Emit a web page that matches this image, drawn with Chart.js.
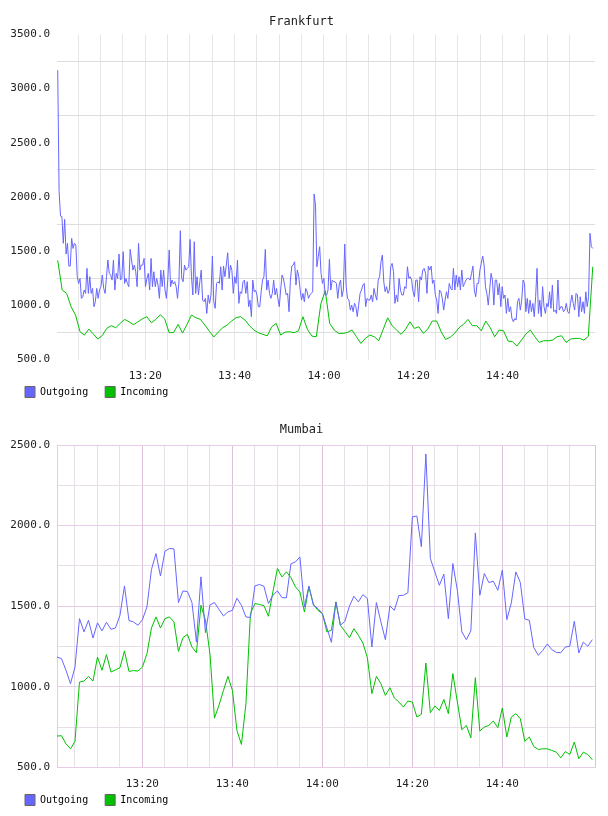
<!DOCTYPE html>
<html>
<head>
<meta charset="utf-8">
<script src="https://cdn.jsdelivr.net/npm/chart.js@4.4.0/dist/chart.umd.min.js"></script>
<style>
  body { margin: 0; background: #fff; }
  canvas { display: block; }
</style>
</head>
<body>
<canvas id="frankfurt" width="608" height="408"></canvas>
<canvas id="mumbai" width="608" height="408"></canvas>
<script>
// values
const seriesNames = ['Outgoing', 'Incoming'];

// Frankfurt, outgoing (about one sample every 20s)
const frankfurtOut = [
  3170, 2050, 1824, 1818, 1572, 1793, 1473, 1572, 1362, 1362, 1618, 1525, 1572, 1556, 1264, 1202, 1248, 1064, 1079, 1141,
  1110, 1341, 1110, 1264, 1110, 1156, 987, 1033, 1156, 1064, 1141, 1172, 1279, 1156, 1110, 1264, 1418, 1295, 1279, 1233,
  1418, 1141, 1295, 1248, 1473, 1233, 1248, 1495, 1202, 1248, 1202, 1172, 1516, 1418, 1325, 1372, 1310, 1172, 1572, 1325,
  1372, 1372, 1433, 1172, 1248, 1295, 1141, 1433, 1172, 1310, 1172, 1248, 1187, 1064, 1325, 1172, 1325, 1141, 1064, 1233,
  1510, 1172, 1233, 1196, 1218, 1172, 1064, 1218, 1688, 1248, 1218, 1372, 1325, 1341, 1356, 1608, 1264, 1095, 1587, 1110,
  1264, 1095, 1218, 1325, 1048, 1033, 1064, 925, 1095, 1018, 1095, 1455, 1033, 972, 1202, 1218, 1202, 1356, 1141, 1362,
  1264, 1372, 1485, 1248, 1372, 1325, 1110, 1264, 1202, 1418, 1018, 1125, 1110, 1218, 1233, 1110, 1218, 987, 1048, 895,
  1233, 1125, 1141, 1095, 987, 987, 1125, 1233, 1264, 1516, 1141, 1233, 1110, 1064, 1110, 1233, 1095, 1156, 1064, 987,
  1141, 1279, 1248, 1172, 1095, 1110, 941, 1233, 1362, 1372, 1402, 1187, 1325, 1264, 1141, 1048, 1110, 1033, 1156, 1125,
  1064, 1095, 1110, 1125, 2027, 1925, 1356, 1448, 1541, 1295, 1202, 1248, 1095, 1095, 1141, 1424, 1141, 1233, 1218, 1218,
  1202, 1064, 1187, 1233, 1079, 1141, 1565, 1172, 1064, 1048, 956, 1002, 941, 1018, 987, 895, 1002, 1110, 1141, 1187,
  1202, 987, 1064, 1048, 1048, 1095, 1033, 1156, 1095, 1048, 1233, 1264, 1402, 1464, 1218, 1125, 1172, 1110, 1141, 1356,
  1387, 1310, 1018, 1095, 1033, 1248, 1141, 1095, 1095, 1172, 1156, 1356, 1248,
  1264, 1233, 1125, 1079, 1233, 1233, 1033, 1264, 1233, 1325, 1341, 1295, 1110, 1362, 1325, 1362, 1202, 1233, 1095, 1048,
  925, 1141, 1125, 1064, 956, 1048, 1125, 1064, 1202, 1156, 1141, 1341, 1141, 1279, 1172, 1264, 1141, 1325, 1172, 1202,
  1233, 1248, 1248, 1233, 1295, 1362, 1141, 1079, 1202, 1202, 1325, 1387, 1455, 1372, 1172, 1110, 1002, 1141, 1295, 1233,
  1002, 1233, 1233, 1095, 1202, 987, 1172, 1064, 1095, 925, 1064, 941, 987, 879, 848, 879, 864, 1033, 1064, 956,
  1048, 1233, 1202, 941, 1064, 925, 1048, 941, 1018, 895, 1079, 1341, 925, 1048, 895, 1172, 987, 925, 1018, 987,
  1125, 972, 1187, 941, 956, 925, 1233, 956, 987, 987, 941, 956, 1018, 941, 925, 1018, 1095, 1018, 956, 1110,
  1095, 895, 1079, 941, 1033, 925, 1125, 987, 1079, 1664, 1541, 1525
];

// Frankfurt, incoming (one sample a minute)
const frankfurtIn = [
  1415, 1141, 1110, 987, 910, 756, 725, 781, 735, 688, 722, 787, 812, 793, 833, 870, 848, 821, 848, 876,
  895, 839, 870, 913, 873, 747, 750, 824, 744, 824, 910, 885, 870, 818, 762, 707, 753, 793, 818, 855,
  885, 895, 864, 812, 772, 747, 732, 719, 802, 833, 725, 753, 756, 747, 765, 895, 778, 716, 710, 1011,
  1135, 833, 772, 741, 741, 750, 772, 710, 648, 695, 725, 710, 673, 778, 885, 812, 772, 732, 778, 848,
  787, 802, 741, 781, 855, 855, 756, 685, 704, 741, 793, 824, 870, 812, 812, 765, 855, 793, 710, 772,
  765, 670, 664, 624, 679, 735, 772, 710, 658, 673, 673, 679, 710, 719, 658, 688, 695, 695, 679, 713,
  1356
];

// Mumbai, outgoing (one sample a minute)
const mumbaiOut = [
  1185, 1175, 1103, 1020, 1123, 1423, 1341, 1413, 1303, 1397, 1347, 1401, 1357, 1365, 1444, 1626, 1411, 1403, 1382, 1417,
  1496, 1728, 1827, 1688, 1842, 1858, 1856, 1523, 1595, 1591, 1523, 1278, 1682, 1336, 1508, 1523, 1481, 1440, 1465, 1475,
  1550, 1506, 1434, 1430, 1626, 1635, 1624, 1517, 1568, 1595, 1554, 1552, 1763, 1775, 1806, 1496, 1626, 1506, 1486, 1454,
  1365, 1276, 1527, 1382, 1407, 1500, 1562, 1527, 1572, 1548, 1247, 1523, 1403, 1293, 1502, 1475, 1566, 1568, 1583, 2055,
  2059, 1869, 2444, 1796, 1713, 1630, 1699, 1423, 1765, 1599, 1341, 1293, 1347, 1955, 1568, 1703, 1647, 1655, 1599, 1724,
  1417, 1521, 1713, 1647, 1421, 1413, 1243, 1196, 1227, 1266, 1231, 1214, 1212, 1247, 1252, 1407, 1210, 1278, 1252, 1293
];

// Mumbai, incoming (one sample a minute)
const mumbaiIn = [
  695, 697, 647, 616, 662, 1030, 1036, 1065, 1036, 1185, 1103, 1200, 1092, 1105, 1119, 1223, 1096, 1101, 1098, 1123,
  1206, 1365, 1434, 1365, 1423, 1434, 1403, 1220, 1305, 1326, 1247, 1212, 1506, 1413, 1206, 806, 885, 978, 1065, 978,
  730, 643, 896, 1455, 1517, 1511, 1504, 1438, 1589, 1734, 1682, 1713, 1678, 1620, 1589, 1465, 1620, 1513, 1475, 1454,
  1341, 1351, 1527, 1382, 1345, 1305, 1361, 1320, 1272, 1181, 958, 1065, 1020, 947, 995, 931, 906, 875, 912, 906,
  813, 830, 1148, 840, 881, 854, 922, 834, 1082, 906, 734, 761, 684, 1057, 726, 751, 761, 788, 747, 869,
  689, 813, 834, 803, 662, 689, 630, 612, 616, 616, 606, 595, 560, 599, 581, 658, 554, 595, 581, 548
];

// time axis: minutes after 13:00
const gridMinutes = [5, 10, 15, 20, 25, 30, 35, 40, 45, 50, 55, 60, 65, 70, 75, 80, 85, 90, 95, 100, 105, 110, 115];
const labelMinutes = [20, 40, 60, 80, 100];

const outColor = 'rgb(102,102,255)';
const inColor = 'rgb(0,192,0)';
const mono = '"DejaVu Sans Mono", monospace';

function toPoints(values, first, last) {
  const step = (last - first) / (values.length - 1);
  return values.map((v, i) => ({ x: first + i * step, y: v }));
}

function clock(v) {
  const m = 13 * 60 + v;
  return Math.floor(m / 60) + ':' + String(m % 60).padStart(2, '0');
}

// the legend sits right under the time labels, so pull it up a bit
const legendLift = {
  id: 'legendLift',
  afterLayout(chart) {
    chart.legend.top -= 13;
    chart.legend.bottom -= 13;
  }
};

function makeChart(id, cfg) {
  const xTicks = cfg.framed ? [cfg.xMin].concat(gridMinutes, [cfg.xMax]) : gridMinutes;
  new Chart(document.getElementById(id), {
    type: 'line',
    data: {
      datasets: [
        { label: seriesNames[0], data: cfg.out, borderColor: outColor, backgroundColor: outColor },
        { label: seriesNames[1], data: cfg.inc, borderColor: inColor, backgroundColor: inColor }
      ]
    },
    plugins: [legendLift],
    options: {
      responsive: false,
      animation: false,
      events: [],
      devicePixelRatio: 1,
      parsing: false,
      elements: {
        line: { borderWidth: 1, tension: 0 },
        point: { radius: 0 }
      },
      layout: { padding: { left: 8, right: 13, top: 0, bottom: -12.5 } },
      scales: {
        x: {
          type: 'linear',
          min: cfg.xMin,
          max: cfg.xMax,
          afterBuildTicks: axis => { axis.ticks = xTicks.map(v => ({ value: v })); },
          afterFit: scale => { scale.height = 23; },
          border: { display: cfg.framed, color: cfg.major },
          grid: {
            drawTicks: false,
            color: ctx => {
              const v = ctx.tick ? ctx.tick.value : 0;
              if (!cfg.framed) return '#e6e6e6';
              if (v === cfg.xMin || v === cfg.xMax || v % 20 === 0) return '#dcc0dc';
              return '#e8e0e8';
            }
          },
          ticks: {
            autoSkip: false,
            maxRotation: 0,
            padding: 10,
            color: '#222',
            font: { family: mono, size: 11 },
            callback: v => labelMinutes.includes(v) ? clock(v) : ''
          }
        },
        y: {
          min: 500,
          max: cfg.yMax,
          afterFit: scale => { scale.width = 49; },
          border: { display: cfg.framed, color: cfg.major },
          grid: {
            drawTicks: false,
            color: ctx => {
              const v = ctx.tick ? ctx.tick.value : 0;
              if (cfg.framed) return v % 500 === 0 ? cfg.major : '#e8dee8';
              return v % 500 === 250 ? '#dedede' : 'rgba(0,0,0,0)';
            }
          },
          ticks: {
            stepSize: 250,
            padding: 7,
            color: '#222',
            font: { family: mono, size: 11 },
            callback: v => v % 500 === 0 ? v.toFixed(1) : ''
          }
        }
      },
      plugins: {
        tooltip: { enabled: false },
        title: {
          display: true,
          text: cfg.title,
          color: '#222',
          font: { family: mono, size: 12, weight: 'normal' },
          padding: { top: 15, bottom: cfg.titleGap }
        },
        legend: {
          position: 'bottom',
          align: 'start',
          labels: {
            boxWidth: 10,
            boxHeight: 11,
            padding: 17,
            color: '#111',
            font: { family: mono, size: 10 },
            generateLabels: chart => chart.data.datasets.map((ds, i) => ({
              text: ds.label,
              fillStyle: ds.borderColor,
              strokeStyle: '#666',
              lineWidth: 1,
              hidden: false,
              datasetIndex: i
            }))
          }
        }
      }
    }
  });
}

makeChart('frankfurt', {
  title: 'Frankfurt',
  out: toPoints(frankfurtOut, 0.38, 120.2),
  inc: toPoints(frankfurtIn, 0.38, 120.2),
  xMin: 0.22,
  xMax: 120.7,
  yMax: 3500,
  framed: false,
  major: '#e0e0e0',
  titleGap: 5
});

makeChart('mumbai', {
  title: 'Mumbai',
  out: toPoints(mumbaiOut, 1.04, 120.0),
  inc: toPoints(mumbaiIn, 1.04, 120.0),
  xMin: 1.04,
  xMax: 120.6,
  yMax: 2500,
  framed: true,
  major: '#e6cce6',
  titleGap: 7.6
});
</script>
</body>
</html>
